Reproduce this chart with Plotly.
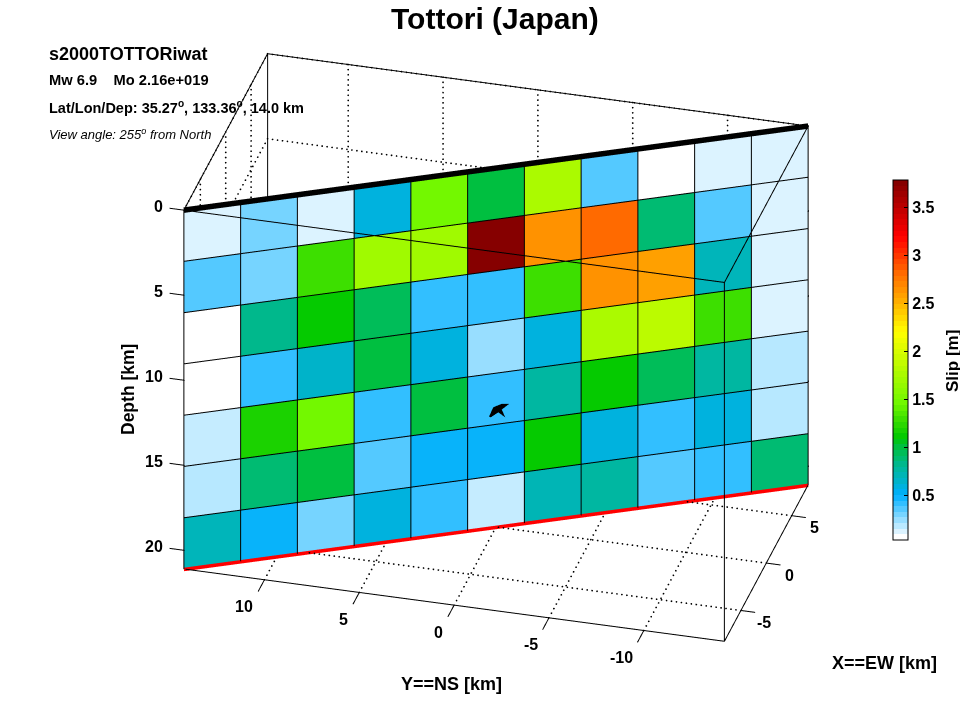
import numpy as np
import plotly.graph_objects as go

TITLE = "Tottori (Japan)"
EVENT = "s2000TOTTORiwat"
slip = [
    [0.10, 0.30, 0.10, 0.58, 1.45, 1.00, 1.78, 0.35, 0.05, 0.10, 0.10],
    [0.35, 0.30, 1.30, 1.70, 1.70, 3.79, 2.65, 2.80, 0.90, 0.35, 0.10],
    [0.05, 0.82, 1.10, 0.95, 0.43, 0.43, 1.30, 2.65, 2.55, 0.68, 0.10],
    [0.05, 0.40, 0.65, 1.00, 0.58, 0.25, 0.58, 1.75, 1.85, 1.30, 0.10],
    [0.15, 1.20, 1.45, 0.40, 1.00, 0.43, 0.75, 1.10, 0.95, 0.75, 0.20],
    [0.20, 0.90, 1.00, 0.35, 0.50, 0.50, 1.10, 0.58, 0.43, 0.58, 0.20],
    [0.68, 0.50, 0.30, 0.58, 0.43, 0.15, 0.70, 0.75, 0.35, 0.43, 0.90],
]
depth_edges = [0, 3.01, 6.03, 9.04, 12.06, 15.07, 18.09, 21.1]
x_box = [-8.25, 8.25]
y_box = [-14.25, 14.25]
z_bottom = -21.1
x_ticks = [-5, 0, 5]
y_ticks = [-10, -5, 0, 5, 10]
x_labels = ["-5", "0", "5"]
y_labels = ["-10", "-5", "0", "5", "10"]
depth_ticks = [0, 5, 10, 15, 20]
hypo_depth = 14.0
# swoosh outline of the focal marker: km along strike, km of depth around the hypocentre
hypo_u = [-0.37, -0.143, 0.30, 0.69, 0.30, 0.49, 0.12, -0.28]
hypo_d = [0.559, 0.043, -0.09, -0.03, 0.247, 0.732, 0.379, 0.614]

anchors = [
    (0.06, (255, 255, 255)), (0.11, (225, 245, 255)), (0.50, (0, 176, 255)),
    (0.65, (0, 180, 200)), (0.80, (0, 184, 150)), (1.00, (0, 192, 64)),
    (1.10, (0, 200, 0)), (1.30, (64, 224, 0)), (1.45, (112, 248, 0)),
    (2.20, (255, 255, 0)), (2.55, (255, 168, 0)), (2.80, (255, 112, 0)),
    (3.20, (255, 0, 0)), (3.79, (128, 0, 0)),
]
cmin, cmax = 0.03, 3.79
levels = 64
av = [a[0] for a in anchors]
scale = []
for i in range(levels):
    v = cmin + (i + 0.5) / levels * (cmax - cmin)
    rgb = [int(np.interp(v, av, [a[1][k] for a in anchors])) for k in range(3)]
    c = "rgb(%d,%d,%d)" % tuple(rgb)
    scale += [[i / levels, c], [(i + 1) / levels, c]]

FONT = "Liberation Sans"
ZOOM = 1.663
def fx_px(p):
    return p / 960
def fy_px(p):
    return 1 - p / 720

eye_dir = np.array([-0.837, -0.224, 0.5])
xa, xb = x_box
ya, yb = y_box
zc = z_bottom / 2
# the scene's ranges are wider than the drawn box, so ticks may stick out of it
x_range = [-14, 14]
y_range = [-20, 20]
z_range = [zc - 16, zc + 16]
slip_arr = np.array(slip)
nr, nc = slip_arr.shape
t = np.linspace(0, 1, nc + 1)
fx = xa + (xb - xa) * t
fy = yb + (ya - yb) * t

vx, vy, vz = [], [], []
for d in depth_edges:
    vx += list(fx); vy += list(fy); vz += [-d] * (nc + 1)
I, J, K, inten = [], [], [], []
for r in range(nr):
    for c in range(nc):
        p = r * (nc + 1) + c
        q = p + nc + 1
        I += [p, p]; J += [p + 1, q + 1]; K += [q + 1, q]
        inten += [slip[r][c]] * 2

fig = go.Figure()
fig.add_trace(go.Mesh3d(
    x=vx, y=vy, z=vz, i=I, j=J, k=K, intensity=inten, intensitymode="cell",
    colorscale=scale, cmin=cmin, cmax=cmax, flatshading=True,
    lighting=dict(ambient=1, diffuse=0, specular=0, roughness=1, fresnel=0),
    hoverinfo="skip",
    colorbar=dict(
        x=fx_px(893), xanchor="left", y=fy_px(180), yanchor="top", xpad=0, ypad=0,
        len=360 / 720, lenmode="fraction", thickness=15, outlinecolor="black", outlinewidth=1,
        ticks="inside", ticklen=4, tickcolor="black", tickvals=[0.5, 1, 1.5, 2, 2.5, 3, 3.5],
        ticktext=["0.5", "1", "1.5", "2", "2.5", "3", "3.5"],
        tickfont=dict(family=FONT, size=16, color="black", weight="bold"),
    ),
))

off = eye_dir * 0.04

def line3d(xs, ys, zs, color="black", width=2):
    fig.add_trace(go.Scatter3d(
        x=xs, y=ys, z=zs, mode="lines", line=dict(color=color, width=width),
        hoverinfo="skip", showlegend=False))

# cell edges, just in front of the plane
ex, ey, ez = [], [], []
for d in depth_edges[1:-1]:
    ex += list(fx + off[0]) + [None]; ey += list(fy + off[1]) + [None]; ez += [-d + off[2]] * (nc + 1) + [None]
for i in range(nc + 1):
    ex += [fx[i] + off[0]] * 2 + [None]; ey += [fy[i] + off[1]] * 2 + [None]
    ez += [off[2], -depth_edges[-1] + off[2], None]
line3d(ex, ey, ez)

# dotted grid on floor and back walls, as small dots about 5 px apart on screen
px_per_km = np.array([10.7, 19.3, 17.0])
segments = []
for v in x_ticks:
    segments.append(((v, ya, z_bottom), (v, yb, z_bottom)))
    segments.append(((v, yb, z_bottom), (v, yb, 0)))
for v in y_ticks:
    segments.append(((xa, v, z_bottom), (xb, v, z_bottom)))
    segments.append(((xb, v, z_bottom), (xb, v, 0)))
for v in depth_ticks:
    segments.append(((xa, yb, -v), (xb, yb, -v)))
    segments.append(((xb, ya, -v), (xb, yb, -v)))
gx, gy, gz = [], [], []
for a, b in segments:
    a, b = np.array(a, float), np.array(b, float)
    n = max(2, int(np.abs((b - a) * px_per_km).max() / 5))
    for s in np.linspace(0, 1, n):
        q = a + (b - a) * s
        gx.append(q[0]); gy.append(q[1]); gz.append(q[2])
fig.add_trace(go.Scatter3d(x=gx, y=gy, z=gz, mode="markers", hoverinfo="skip", showlegend=False,
                           marker=dict(size=1, color="black", line=dict(width=0))))

# box
bx, by, bz = [], [], []
for z in (0, z_bottom):
    bx += [xa, xb, xb, xa, xa, None]; by += [ya, ya, yb, yb, ya, None]; bz += [z] * 5 + [None]
for px, py in ((xa, ya), (xb, ya), (xb, yb), (xa, yb)):
    bx += [px, px, None]; by += [py, py, None]; bz += [0, z_bottom, None]
line3d(bx, by, bz)

# tick marks
tx, ty, tz = [], [], []
for v in y_ticks:
    tx += [xa, xa - 1.25, None]; ty += [v, v, None]; tz += [z_bottom, z_bottom, None]
for v in x_ticks:
    tx += [v, v, None]; ty += [ya, ya - 0.75, None]; tz += [z_bottom, z_bottom, None]
for v in depth_ticks:
    tx += [xa, xa, None]; ty += [yb, yb + 0.75, None]; tz += [-v, -v, None]
line3d(tx, ty, tz)

# top and bottom fault edges
line3d(list(fx[[0, -1]] + off[0]), list(fy[[0, -1]] + off[1]), [off[2]] * 2, width=11)
line3d(list(fx[[0, -1]] + off[0]), list(fy[[0, -1]] + off[1]), [-depth_edges[-1] + off[2]] * 2, color="red", width=9)

# focal marker
sx = (xb - xa) / np.hypot(xb - xa, yb - ya)
sy = (ya - yb) / np.hypot(xb - xa, yb - ya)
hu, hd = np.array(hypo_u), np.array(hypo_d)
mx = hu * sx + 2 * off[0]
my = hu * sy + 2 * off[1]
mz = -hypo_depth - hd + 2 * off[2]
fig.add_trace(go.Mesh3d(
    x=mx, y=my, z=mz, i=[0, 1, 1, 2, 2, 4], j=[1, 2, 6, 4, 3, 5], k=[7, 6, 7, 6, 4, 6],
    color="black", flatshading=True, hoverinfo="skip", showscale=False,
    lighting=dict(ambient=1, diffuse=0, specular=0),
))

tfont = dict(family=FONT, size=16, color="black", weight="bold")
scene_labels = []
for v, s in zip(y_ticks, y_labels):
    scene_labels.append(dict(x=xa, y=v, z=z_bottom, text=s, showarrow=False, font=tfont,
                             xanchor="right", yanchor="middle", xshift=-9, yshift=-27))
for v, s in zip(x_ticks, x_labels):
    scene_labels.append(dict(x=v, y=ya, z=z_bottom, text=s, showarrow=False, font=tfont,
                             xanchor="center", yanchor="middle", xshift=23, yshift=-12))
for v in depth_ticks:
    scene_labels.append(dict(x=xa, y=yb, z=-v, text=str(v), showarrow=False, font=tfont,
                             xanchor="right", yanchor="middle", xshift=-19, yshift=4))

hidden = dict(visible=False, showbackground=False, showgrid=False, zeroline=False, showspikes=False)
asp = np.array([np.ptp(x_range), np.ptp(y_range), np.ptp(z_range)]) / (yb - ya) * ZOOM
eye = eye_dir * 3

fig.update_layout(
    width=960, height=720, margin=dict(l=0, r=0, t=0, b=0, autoexpand=False),
    paper_bgcolor="white", showlegend=False,
    scene=dict(
        domain=dict(x=[0.1, 0.9333], y=[0.05, 0.9847]),
        xaxis=dict(hidden, range=x_range),
        yaxis=dict(hidden, range=y_range),
        zaxis=dict(hidden, range=z_range),
        aspectmode="manual", aspectratio=dict(x=asp[0], y=asp[1], z=asp[2]),
        camera=dict(eye=dict(x=eye[0], y=eye[1], z=eye[2]), up=dict(x=0, y=0, z=1),
                    center=dict(x=0, y=0, z=0), projection=dict(type="orthographic")),
        annotations=scene_labels,
    ),
    annotations=[
        dict(text=TITLE, x=495, y=18, xanchor="center", font=dict(size=30, weight="bold")),
        dict(text=EVENT, x=48, y=54, xanchor="left", font=dict(size=18, weight="bold")),
        dict(text="Mw 6.9    Mo 2.16e+019", x=48, y=80, xanchor="left", font=dict(size=14.7, weight="bold")),
        dict(text="Lat/Lon/Dep: 35.27<sup>o</sup>, 133.36<sup>o</sup>, 14.0 km", x=48, y=107, xanchor="left",
             font=dict(size=14.5, weight="bold")),
        dict(text="<i>View angle: 255<sup>o</sup> from North</i>", x=48, y=134, xanchor="left", font=dict(size=13)),
        dict(text="Depth [km]", x=128, y=390, xanchor="center", textangle=-90, font=dict(size=17.5, weight="bold")),
        dict(text="Y==NS [km]", x=451, y=684, xanchor="center", font=dict(size=18, weight="bold")),
        dict(text="X==EW [km]", x=884, y=663, xanchor="center", font=dict(size=18, weight="bold")),
        dict(text="Slip [m]", x=952, y=361, xanchor="center", textangle=-90, font=dict(size=17, weight="bold")),
    ],
)
# annotation positions above are given in pixels of the 960x720 page
for a in fig.layout.annotations:
    a.update(x=fx_px(a.x), y=fy_px(a.y), xref="paper", yref="paper", yanchor="middle", showarrow=False,
             borderpad=0, font=dict(family=FONT, color="black", size=a.font.size, weight=a.font.weight))
fig.write_html("out.html", config=dict(displayModeBar=False), post_script="document.body.style.margin='0';")
